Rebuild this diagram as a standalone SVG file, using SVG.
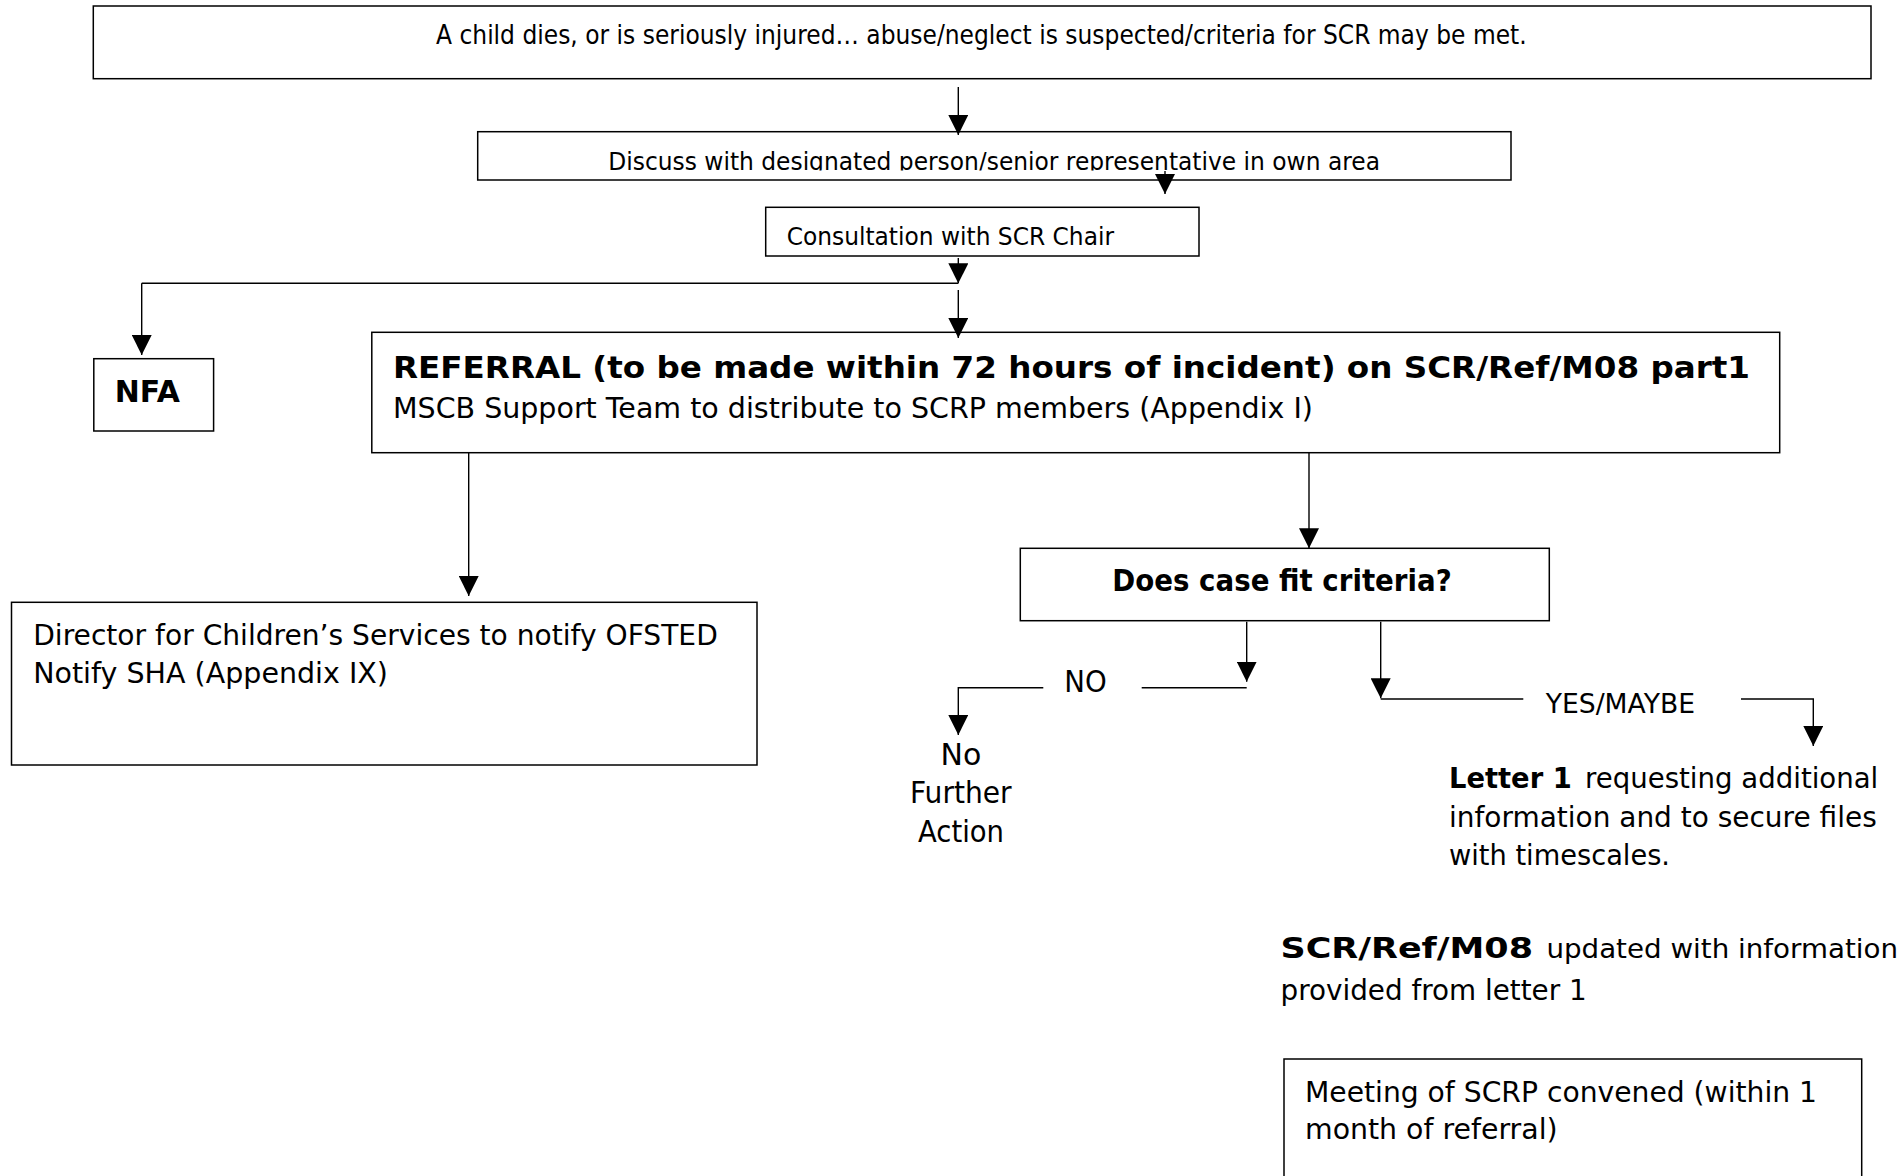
<svg xmlns="http://www.w3.org/2000/svg" width="1901" height="1176" viewBox="0 0 1901 1176">
  <style>
    .box { fill: #ffffff; stroke: #000000; stroke-width: 1.5; }
    .wire { fill: none; stroke: #000000; stroke-width: 1.4; }
    .t { font-family: "DejaVu Sans", Verdana, sans-serif; fill: #000000; }
    .b { font-weight: bold; }
  </style>
  <defs>
    <marker id="arrow" viewBox="0 0 20 20" refX="20" refY="10" markerWidth="20" markerHeight="20" markerUnits="userSpaceOnUse" orient="auto">
      <path d="M0,0 L20,10 L0,20 z" fill="#000000"/>
    </marker>
    <clipPath id="discussClip">
      <rect x="478" y="133" width="1033" height="37.5"/>
    </clipPath>
  </defs>
  <rect width="1901" height="1176" fill="#ffffff"/>

  <!-- incident -->
  <g id="incident">
    <rect class="box" x="93.3" y="6" width="1777.7" height="72.7"/>
    <text class="t" x="436" y="43.7" font-size="26.5" textLength="1090.7" lengthAdjust="spacingAndGlyphs">A child dies, or is seriously injured… abuse/neglect is suspected/criteria for SCR may be met.</text>
  </g>

  <!-- discuss -->
  <g id="discuss">
    <rect class="box" x="477.7" y="131.7" width="1033.3" height="48.3"/>
    <text class="t" x="608.3" y="169.5" font-size="24.5" textLength="771.7" lengthAdjust="spacingAndGlyphs" clip-path="url(#discussClip)">Discuss with designated person/senior representative in own area</text>
  </g>

  <!-- consultation -->
  <g id="consultation">
    <rect class="box" x="765.7" y="207.3" width="433.3" height="48.7"/>
    <text class="t" x="786.7" y="245" font-size="25.5" textLength="327.3" lengthAdjust="spacingAndGlyphs">Consultation with SCR Chair</text>
  </g>

  <!-- nfa -->
  <g id="nfa">
    <rect class="box" x="93.8" y="358.7" width="119.8" height="72.3"/>
    <text class="t b" x="114.8" y="401.7" font-size="30" textLength="65.2" lengthAdjust="spacingAndGlyphs">NFA</text>
  </g>

  <!-- referral -->
  <g id="referral">
    <rect class="box" x="371.8" y="332.3" width="1407.9" height="120.4"/>
    <text class="t b" x="393" y="378.3" font-size="30" textLength="1357" lengthAdjust="spacingAndGlyphs">REFERRAL (to be made within 72 hours of incident) on SCR/Ref/M08 part1</text>
    <text class="t" x="393" y="418.3" font-size="29" textLength="920" lengthAdjust="spacingAndGlyphs">MSCB Support Team to distribute to SCRP members (Appendix I)</text>
  </g>

  <!-- director -->
  <g id="director">
    <rect class="box" x="11.5" y="602.3" width="745.5" height="162.7"/>
    <text class="t" x="33.2" y="645" font-size="28" textLength="684.6" lengthAdjust="spacingAndGlyphs">Director for Children’s Services to notify OFSTED</text>
    <text class="t" x="33.2" y="683" font-size="28" textLength="354.8" lengthAdjust="spacingAndGlyphs">Notify SHA (Appendix IX)</text>
  </g>

  <!-- decision -->
  <g id="decision">
    <rect class="box" x="1020.3" y="548.3" width="529" height="72.4"/>
    <text class="t b" x="1112.3" y="590.7" font-size="30" textLength="339.4" lengthAdjust="spacingAndGlyphs">Does case fit criteria?</text>
  </g>

  <!-- no further action -->
  <g id="no-further-action">
    <text class="t" x="961" y="765" font-size="30" text-anchor="middle">No</text>
    <text class="t" x="960.8" y="803.3" font-size="30" text-anchor="middle" textLength="101.7" lengthAdjust="spacingAndGlyphs">Further</text>
    <text class="t" x="961" y="841.5" font-size="30" text-anchor="middle" textLength="86" lengthAdjust="spacingAndGlyphs">Action</text>
  </g>

  <!-- letter 1 -->
  <g id="letter1">
    <text class="t b" x="1449" y="788.3" font-size="29" textLength="122.7" lengthAdjust="spacingAndGlyphs">Letter 1</text>
    <text class="t" x="1585" y="788.3" font-size="28" textLength="293.3" lengthAdjust="spacingAndGlyphs">requesting additional</text>
    <text class="t" x="1449" y="826.5" font-size="27.5" textLength="427.7" lengthAdjust="spacingAndGlyphs">information and to secure files</text>
    <text class="t" x="1449" y="865" font-size="28" textLength="221" lengthAdjust="spacingAndGlyphs">with timescales.</text>
  </g>

  <!-- record update -->
  <g id="record-update">
    <text class="t b" x="1280.5" y="958" font-size="29" textLength="252.5" lengthAdjust="spacingAndGlyphs">SCR/Ref/M08</text>
    <text class="t" x="1546.4" y="958" font-size="27.4" textLength="351.6" lengthAdjust="spacingAndGlyphs">updated with information</text>
    <text class="t" x="1280.5" y="1000" font-size="28" textLength="306.2" lengthAdjust="spacingAndGlyphs">provided from letter 1</text>
  </g>

  <!-- meeting -->
  <g id="meeting">
    <rect class="box" x="1284" y="1059" width="577.7" height="130"/>
    <text class="t" x="1305" y="1101.7" font-size="28" textLength="512" lengthAdjust="spacingAndGlyphs">Meeting of SCRP convened (within 1</text>
    <text class="t" x="1305" y="1139" font-size="28" textLength="252.6" lengthAdjust="spacingAndGlyphs">month of referral)</text>
  </g>

  <!-- connectors, drawn over the boxes so arrowheads sit on the borders -->
  <g id="connectors">
    <line class="wire" x1="958.3" y1="87" x2="958.3" y2="135" marker-end="url(#arrow)"/>
    <line class="wire" x1="1165" y1="171" x2="1165" y2="194" marker-end="url(#arrow)"/>
    <line class="wire" x1="958.3" y1="258" x2="958.3" y2="283.3" marker-end="url(#arrow)"/>
    <line class="wire" x1="141.7" y1="283.3" x2="958.3" y2="283.3"/>
    <line class="wire" x1="141.7" y1="283.3" x2="141.7" y2="355" marker-end="url(#arrow)"/>
    <line class="wire" x1="958.3" y1="290" x2="958.3" y2="338" marker-end="url(#arrow)"/>
    <line class="wire" x1="468.7" y1="452.7" x2="468.7" y2="596" marker-end="url(#arrow)"/>
    <line class="wire" x1="1309" y1="452.7" x2="1309" y2="548.3" marker-end="url(#arrow)"/>
    <line class="wire" x1="1246.7" y1="621.7" x2="1246.7" y2="681.7" marker-end="url(#arrow)"/>
    <line class="wire" x1="1141.7" y1="687.7" x2="1246.7" y2="687.7"/>
    <polyline class="wire" points="1043.3,687.7 958.3,687.7 958.3,735" marker-end="url(#arrow)"/>
    <line class="wire" x1="1380.7" y1="621.7" x2="1380.7" y2="698.3" marker-end="url(#arrow)"/>
    <line class="wire" x1="1380.7" y1="699" x2="1523.3" y2="699"/>
    <polyline class="wire" points="1741,699 1813.3,699 1813.3,746" marker-end="url(#arrow)"/>
    <text class="t" x="1064.3" y="692.3" font-size="30" textLength="42.4" lengthAdjust="spacingAndGlyphs">NO</text>
    <text class="t" x="1545.7" y="713.3" font-size="27" textLength="149.3" lengthAdjust="spacingAndGlyphs">YES/MAYBE</text>
  </g>
</svg>
